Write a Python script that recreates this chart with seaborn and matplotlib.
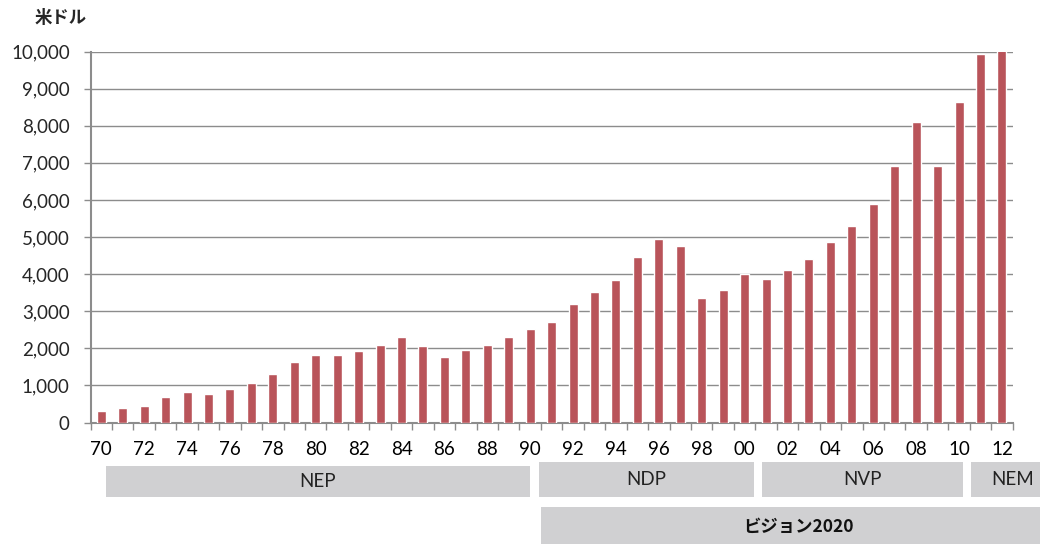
import matplotlib
matplotlib.use('Agg')
import matplotlib.pyplot as plt
import matplotlib.transforms as mtransforms
from matplotlib.patches import Rectangle
from matplotlib.ticker import FuncFormatter, FixedLocator
import seaborn as sns
import pandas as pd

# 1人当たりGNI (米ドル), 1970-2012
years = list(range(1970, 2013))
values = [315, 396, 458, 684, 819, 782, 917, 1070, 1313, 1636,
          1833, 1833, 1941, 2095, 2302, 2067, 1763, 1960, 2095, 2302,
          2526, 2715, 3191, 3515, 3846, 4466, 4943, 4763, 3353, 3585,
          4016, 3873, 4116, 4404, 4871, 5302, 5895, 6919, 8105, 6919,
          8644, 9946, 10400]

# 政策期間 (開始年, 終了年)
periods = ['NEP', 'NDP', 'NVP', 'NEM']
period_start = [1970.2, 1990.4, 2000.8, 2010.55]
period_end = [1990.0, 2000.45, 2010.2, 2014.0]
vision_label = 'ビジョン2020'
vision_start, vision_end = 1990.5, 2014.0

unit_label = '米ドル'
bar_color = '#B9545A'
box_color = '#D0D0D2'

sns.set_style('white')
plt.rcParams['font.family'] = ['Lato', 'Noto Sans CJK JP', 'DejaVu Sans']

df = pd.DataFrame({'year': [f'{y % 100:02d}' for y in years], 'value': values})

fig = plt.figure(figsize=(10.4, 5.44), dpi=100)
ax = fig.add_axes([0.0871, 0.2233, 0.8866, 0.682])

sns.barplot(data=df, x='year', y='value', color=bar_color, width=0.42,
            saturation=1, ax=ax, zorder=3)

ax.set_ylim(0, 10000)
ax.set_xlim(-0.5, len(years) - 0.5)
ax.set_yticks(range(0, 10001, 1000))
ax.yaxis.set_major_formatter(FuncFormatter(lambda v, p: f'{int(v):,}'))
ax.grid(axis='y', color='#8c8c8c', linewidth=1.0, zorder=0)
ax.set_axisbelow(True)

# 2年おきのラベル, 目盛りは棒の間
ax.set_xticks(range(0, len(years), 2))
ax.set_xticklabels([df['year'][i] for i in range(0, len(years), 2)])
ax.xaxis.set_minor_locator(FixedLocator([i - 0.5 for i in range(len(years) + 1)]))
ax.tick_params(axis='x', which='major', length=0, pad=13, labelsize=13.5, colors='black')
ax.tick_params(axis='x', which='minor', length=5, width=1, color='#8c8c8c', direction='out', bottom=True)
ax.tick_params(axis='y', length=5, width=1, color='#8c8c8c', pad=10, labelsize=13.5, left=True)
ax.set_xlabel('')
ax.set_ylabel('')

for side in ['top', 'right']:
    ax.spines[side].set_visible(False)
for side in ['left', 'bottom']:
    ax.spines[side].set_color('#8c8c8c')
    ax.spines[side].set_linewidth(1.5)

fig.text(0.058, 0.967, unit_label, fontsize=12.5, fontweight='bold',
         family=['Noto Sans CJK JP', 'DejaVu Sans'], ha='center', va='center')

# 政策期間の帯
trans = mtransforms.blended_transform_factory(ax.transData, fig.transFigure)


def to_x(year):
    return year - years[0]


for name, s, e in zip(periods, period_start, period_end):
    y0 = 1 - 497 / 544
    h = 31 / 544 if name == 'NEP' else 35 / 544
    rect = Rectangle((to_x(s), y0), to_x(e) - to_x(s), h, transform=trans,
                     facecolor=box_color, edgecolor='none', clip_on=False)
    fig.add_artist(rect)
    xc = (to_x(s) + to_x(e)) / 2 if name != 'NEM' else to_x(2012.5)
    fig.text(xc, y0 + h / 2, name, transform=trans, ha='center', va='center',
             fontsize=13.5, color='#222222')

rect = Rectangle((to_x(vision_start), 0), to_x(vision_end) - to_x(vision_start),
                 37 / 544, transform=trans, facecolor=box_color, edgecolor='none',
                 clip_on=False)
fig.add_artist(rect)
fig.text(to_x(2002.5), 1 - 527 / 544, vision_label, transform=trans, ha='center',
         va='center', fontsize=12.5, fontweight='bold',
         family=['Noto Sans CJK JP', 'DejaVu Sans'], color='#111111')

fig.savefig('out.png', dpi=100)
